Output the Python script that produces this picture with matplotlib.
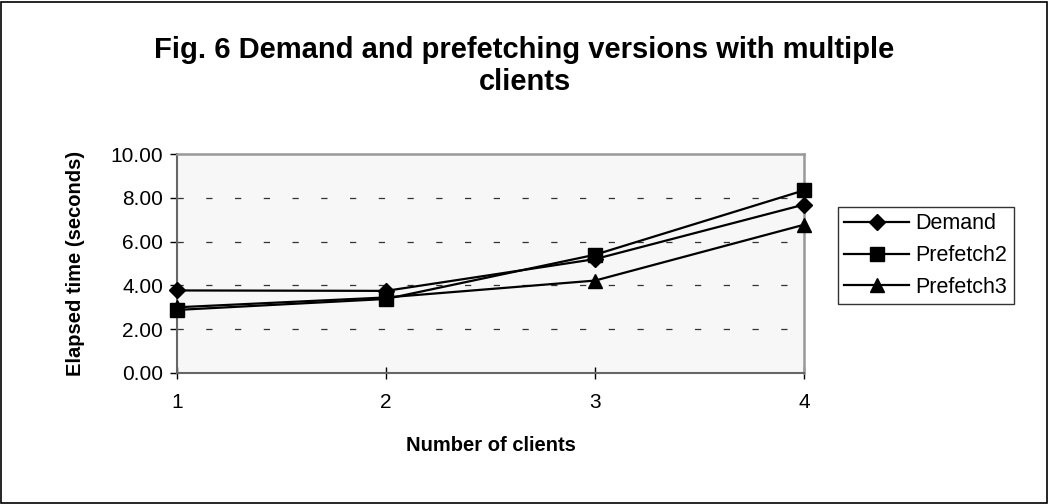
import matplotlib.pyplot as plt
from matplotlib.patches import Rectangle

plt.rcParams['font.family'] = ['Liberation Sans', 'DejaVu Sans']

clients = [1, 2, 3, 4]
demand = [3.77, 3.75, 5.20, 7.69]
prefetch2 = [2.88, 3.38, 5.40, 8.34]
prefetch3 = [3.00, 3.45, 4.22, 6.77]
y_ticks = [0, 2, 4, 6, 8, 10]

fig = plt.figure(figsize=(10.49, 5.04), dpi=100)
ax = fig.add_axes([177/1049, 131/504, 627/1049, 219/504])
ax.set_facecolor('#f7f7f7')

# outer chart border
fig.patches.append(Rectangle((0.001, 0.002), 0.997, 0.995, transform=fig.transFigure,
                             fill=False, edgecolor='black', linewidth=1.2))

for y in y_ticks[1:-1]:
    ax.axhline(y, color='#333333', linewidth=0.9, linestyle=(0, (5, 18)), zorder=1)

style = dict(color='black', linewidth=1.6, zorder=5, clip_on=False)
ax.plot(clients, demand, marker='D', markersize=8, label='Demand', **style)
ax.plot(clients, prefetch2, marker='s', markersize=10.5, label='Prefetch2', **style)
ax.plot(clients, prefetch3, marker='^', markersize=10.5, label='Prefetch3', **style)

ax.set_xlim(1, 4)
ax.set_ylim(0, 10)
ax.set_xticks(clients)
ax.set_yticks(y_ticks)
ax.set_yticklabels([f'{v:.2f}' for v in y_ticks])
ax.tick_params(axis='y', direction='out', length=5, width=1, labelsize=15, pad=5)
ax.tick_params(axis='x', direction='inout', length=9, width=1, labelsize=15, pad=10)

for side in ['top', 'right']:
    ax.spines[side].set_color('#999999')
    ax.spines[side].set_linewidth(1.8)
for side in ['left', 'bottom']:
    ax.spines[side].set_color('#666666')
    ax.spines[side].set_linewidth(1.5)
for sp in ax.spines.values():
    sp.set_zorder(4)

ax.set_xlabel('Number of clients', fontsize=14.5, fontweight='bold', labelpad=17)
ax.set_ylabel('Elapsed time (seconds)', fontsize=14.5, fontweight='bold', labelpad=18)

fig.text(0.5, 1 - 66/504, 'Fig. 6 Demand and prefetching versions with multiple\nclients',
         ha='center', va='center', fontsize=21, fontweight='bold', linespacing=1.2)

leg = ax.legend(loc='upper left', bbox_to_anchor=(838/1049, 297/504), bbox_transform=fig.transFigure,
                frameon=True, fancybox=False, edgecolor='black', fontsize=15.5,
                handlelength=3.0, handletextpad=0.3, borderpad=0.3, labelspacing=0.5,
                borderaxespad=0)
leg.get_frame().set_linewidth(1.0)

fig.savefig('out.png', dpi=100)
